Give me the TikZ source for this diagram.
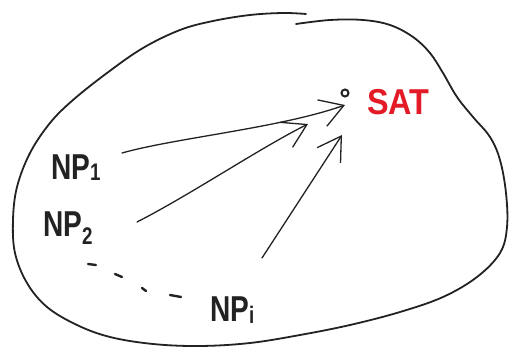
\documentclass[tikz,border=0pt]{standalone}
\usepackage{fontspec}
\setmainfont{Liberation Sans}
\usetikzlibrary{arrows.meta}
\definecolor{ink}{RGB}{34,34,34}
\definecolor{satred}{RGB}{226,27,38}
\newcommand\subsc[2]{\raisebox{#1}{\fontsize{24}{24}\selectfont #2}}
\tikzset{
  blob/.style={draw=ink, line width=1.8pt, line cap=round, line join=round},
  lbl/.style={inner sep=0pt, text=ink, font=\bfseries\fontsize{36}{36}\selectfont, anchor=base west},
  satlbl/.style={inner sep=0pt, text=satred, font=\bfseries\fontsize{36}{36}\selectfont, anchor=base west},
  arr/.style={draw=ink, line width=1.3pt, line cap=round, -{Straight Barb[length=23pt,width=28pt]}},
  dash stroke/.style={draw=ink, line width=2.4pt, line cap=round}
}
\begin{document}
\begin{tikzpicture}[x=1pt,y=-1pt]
\useasboundingbox (0,0) rectangle (509,347);
% outline
\draw[blob] plot[smooth, tension=0.6] coordinates {
 (306,14) (283,13) (250,15) (213,21) (180,30) (143,48) (107,73) (73,100)
 (50,123) (30,153) (17,187) (13,220) (15,253) (27,283) (47,307) (77,325)
 (110,337) (153,344) (200,346) (250,343) (300,335) (350,325) (400,312)
 (443,297) (477,277) (500,253) (507,227) (506,193) (500,160) (490,137)
 (473,117) (457,97) (443,73) (430,53) (413,37) (390,25) (363,20) (330,20) (296,24)};
% labels
\node[lbl] (np1) at (51,180) {\scalebox{0.78}[1]{NP\subsc{-1pt}{1}}};
\node[lbl] (np2) at (43,237) {\scalebox{0.78}[1]{NP\subsc{-8pt}{2}}};
\node[lbl] (npi) at (210,322) {\scalebox{0.78}[1]{NP\subsc{-2pt}{i}}};
\node[satlbl] (sat) at (367,115) {\scalebox{0.9}[1]{SAT}};
\node[circle, draw=ink, line width=2pt, minimum size=7pt, inner sep=0pt] (dot) at (345,93) {};
% arrow end points
\coordinate (s1) at (122,153);
\coordinate (s2) at (137,222);
\coordinate (s3) at (262,258);
\coordinate (t1) at (345,105);
\coordinate (t2) at (308,124);
\coordinate (t3) at (342,135);
\draw[arr] (s1) .. controls (175,138) and (280,128) .. (t1);
\draw[arr] (s2) .. controls (190,195) and (260,148) .. (t2);
\draw[arr] (s3) -- (t3);
% ellipsis strokes
\coordinate (d1a) at (88,264); \coordinate (d1b) at (96,265);
\coordinate (d2a) at (115,274); \coordinate (d2b) at (122,277);
\coordinate (d3a) at (142,288); \coordinate (d3b) at (146,291);
\coordinate (d4a) at (170,295); \coordinate (d4b) at (181,297);
\draw[dash stroke] (d1a) -- (d1b);
\draw[dash stroke] (d2a) -- (d2b);
\draw[dash stroke] (d3a) -- (d3b);
\draw[dash stroke] (d4a) -- (d4b);
\end{tikzpicture}
\end{document}
